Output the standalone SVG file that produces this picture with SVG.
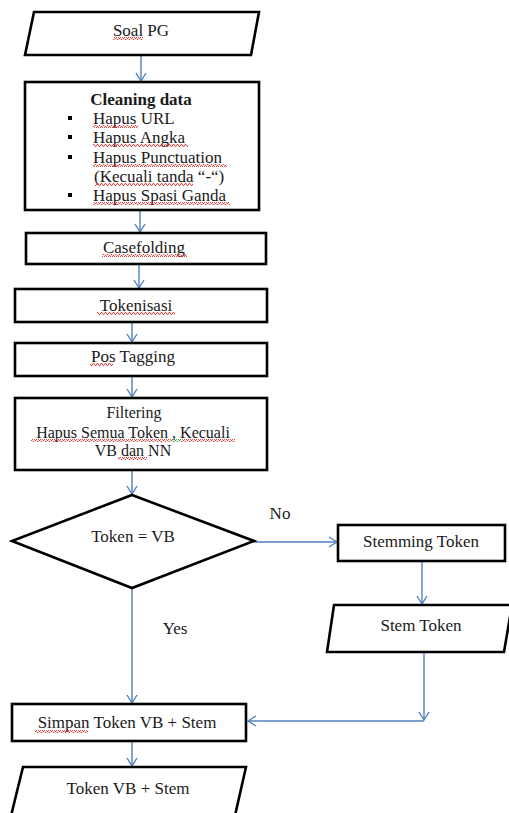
<svg xmlns="http://www.w3.org/2000/svg" width="509" height="813" viewBox="0 0 509 813">
  <style>
    .box { fill: #fff; stroke: #000; stroke-width: 2.6; }
    .lbl { font-family: "Liberation Serif", "Times New Roman", serif; font-size: 17px; fill: #1a1a1a; text-anchor: middle; }
    .small { font-size: 16px; }
    .left { text-anchor: start; }
    .bold { font-weight: bold; }
    .edge { fill: none; stroke: #4f81bd; stroke-width: 1.4; }
    .sq { fill: url(#squiggle); }
    .sqg { fill: url(#squiggleGreen); }
  </style>
  <defs>
    <marker id="arrow" markerWidth="12" markerHeight="12" refX="9" refY="6" orient="auto" markerUnits="userSpaceOnUse">
      <path d="M1,1 L9,6 L1,11" fill="none" stroke="#4f81bd" stroke-width="1.4"/>
    </marker>
    <pattern id="squiggle" width="4" height="3" patternUnits="userSpaceOnUse">
      <path d="M0,2.5 L1,0.5 L2,0.5 L3,2.5 L4,2.5" fill="none" stroke="#e03030" stroke-width="0.9"/>
    </pattern>
    <pattern id="squiggleGreen" width="4" height="3" patternUnits="userSpaceOnUse">
      <path d="M0,2.5 L1,0.5 L2,0.5 L3,2.5 L4,2.5" fill="none" stroke="#2a9a2a" stroke-width="0.9"/>
    </pattern>
  </defs>

  <!-- connectors -->
  <g id="connectors">
    <line class="edge" x1="141" y1="56" x2="141" y2="81" marker-end="url(#arrow)"/>
    <line class="edge" x1="140" y1="211" x2="140" y2="232" marker-end="url(#arrow)"/>
    <line class="edge" x1="139" y1="265" x2="139" y2="288" marker-end="url(#arrow)"/>
    <line class="edge" x1="132" y1="323" x2="132" y2="342" marker-end="url(#arrow)"/>
    <line class="edge" x1="132" y1="377" x2="132" y2="397" marker-end="url(#arrow)"/>
    <line class="edge" x1="132" y1="471" x2="132" y2="494" marker-end="url(#arrow)"/>
    <line class="edge" x1="254" y1="542" x2="337" y2="542" marker-end="url(#arrow)"/>
    <line class="edge" x1="422" y1="562" x2="422" y2="604" marker-end="url(#arrow)"/>
    <line class="edge" x1="132" y1="589" x2="132" y2="703" marker-end="url(#arrow)"/>
    <line class="edge" x1="424" y1="653" x2="424" y2="720" marker-end="url(#arrow)"/>
    <line class="edge" x1="424" y1="721" x2="248" y2="721" marker-end="url(#arrow)"/>
    <line class="edge" x1="132" y1="742" x2="132" y2="766" marker-end="url(#arrow)"/>
  </g>

  <!-- input: Soal PG -->
  <g id="soal-pg">
    <polygon class="box" points="34,12 259,12 251,55 25,55"/>
    <text class="lbl" x="141" y="36">Soal PG</text>
    <rect class="sq" x="113" y="37" width="30" height="3"/>
  </g>

  <!-- cleaning data -->
  <g id="cleaning">
    <rect class="box" x="25" y="82" width="234" height="128"/>
    <text class="lbl bold" x="141" y="105">Cleaning data</text>
    <rect x="68" y="116" width="4" height="4" fill="#000"/>
    <rect x="68" y="135" width="4" height="4" fill="#000"/>
    <rect x="68" y="155" width="4" height="4" fill="#000"/>
    <rect x="68" y="193" width="4" height="4" fill="#000"/>
    <text class="lbl left" x="93" y="124">Hapus URL</text>
    <text class="lbl left" x="93" y="143">Hapus Angka</text>
    <text class="lbl left" x="93" y="163">Hapus Punctuation</text>
    <text class="lbl left" x="94" y="182">(Kecuali tanda “-“)</text>
    <text class="lbl left" x="93" y="201">Hapus Spasi Ganda</text>
    <rect class="sq" x="93" y="125" width="45" height="3"/>
    <rect class="sq" x="93" y="144" width="95" height="3"/>
    <rect class="sq" x="93" y="164" width="134" height="3"/>
    <rect class="sq" x="95" y="183" width="98" height="3"/>
    <rect class="sq" x="93" y="202" width="137" height="3"/>
  </g>

  <!-- casefolding -->
  <g id="casefolding">
    <rect class="box" x="26" y="233" width="240" height="31"/>
    <text class="lbl" x="144" y="253">Casefolding</text>
    <rect class="sq" x="102" y="254" width="85" height="3"/>
  </g>

  <!-- tokenisasi -->
  <g id="tokenisasi">
    <rect class="box" x="15" y="289" width="252" height="33"/>
    <text class="lbl" x="136" y="311">Tokenisasi</text>
    <rect class="sq" x="97" y="312" width="78" height="3"/>
  </g>

  <!-- pos tagging -->
  <g id="pos-tagging">
    <rect class="box" x="15" y="343" width="252" height="33"/>
    <text class="lbl" x="133" y="362">Pos Tagging</text>
    <rect class="sq" x="90" y="363" width="23" height="3"/>
  </g>

  <!-- filtering -->
  <g id="filtering">
    <rect class="box" x="15" y="398" width="252" height="72"/>
    <text class="lbl small" x="134" y="418">Filtering</text>
    <text class="lbl small" x="133" y="438">Hapus Semua Token , Kecuali</text>
    <text class="lbl small" x="133" y="456">VB dan NN</text>
    <rect class="sq" x="31" y="439" width="140" height="3"/>
    <rect class="sqg" x="171" y="439" width="10" height="3"/>
    <rect class="sq" x="181" y="439" width="54" height="3"/>
    <rect class="sq" x="118" y="457" width="29" height="3"/>
  </g>

  <!-- decision -->
  <g id="decision">
    <polygon class="box" points="132,495 254,541 132,588 12,541"/>
    <text class="lbl" x="133" y="542">Token = VB</text>
  </g>

  <!-- branch labels -->
  <g id="labels">
    <text class="lbl" x="280" y="519">No</text>
    <text class="lbl" x="175" y="634">Yes</text>
  </g>

  <!-- stemming -->
  <g id="stemming">
    <rect class="box" x="338" y="525" width="167" height="36"/>
    <text class="lbl" x="421" y="547">Stemming Token</text>
  </g>

  <!-- stem token output -->
  <g id="stem-token">
    <polygon class="box" points="334,605 512,605 504,652 327,652"/>
    <text class="lbl" x="421" y="631">Stem Token</text>
  </g>

  <!-- store result -->
  <g id="simpan">
    <rect class="box" x="12" y="704" width="234" height="37"/>
    <text class="lbl" x="127" y="728">Simpan Token VB + Stem</text>
    <rect class="sq" x="35" y="730" width="53" height="3"/>
  </g>

  <!-- final output -->
  <g id="token-vb-stem">
    <polygon class="box" points="23,767 246,767 234,820 10,820"/>
    <text class="lbl" x="128" y="794">Token VB + Stem</text>
  </g>
</svg>
